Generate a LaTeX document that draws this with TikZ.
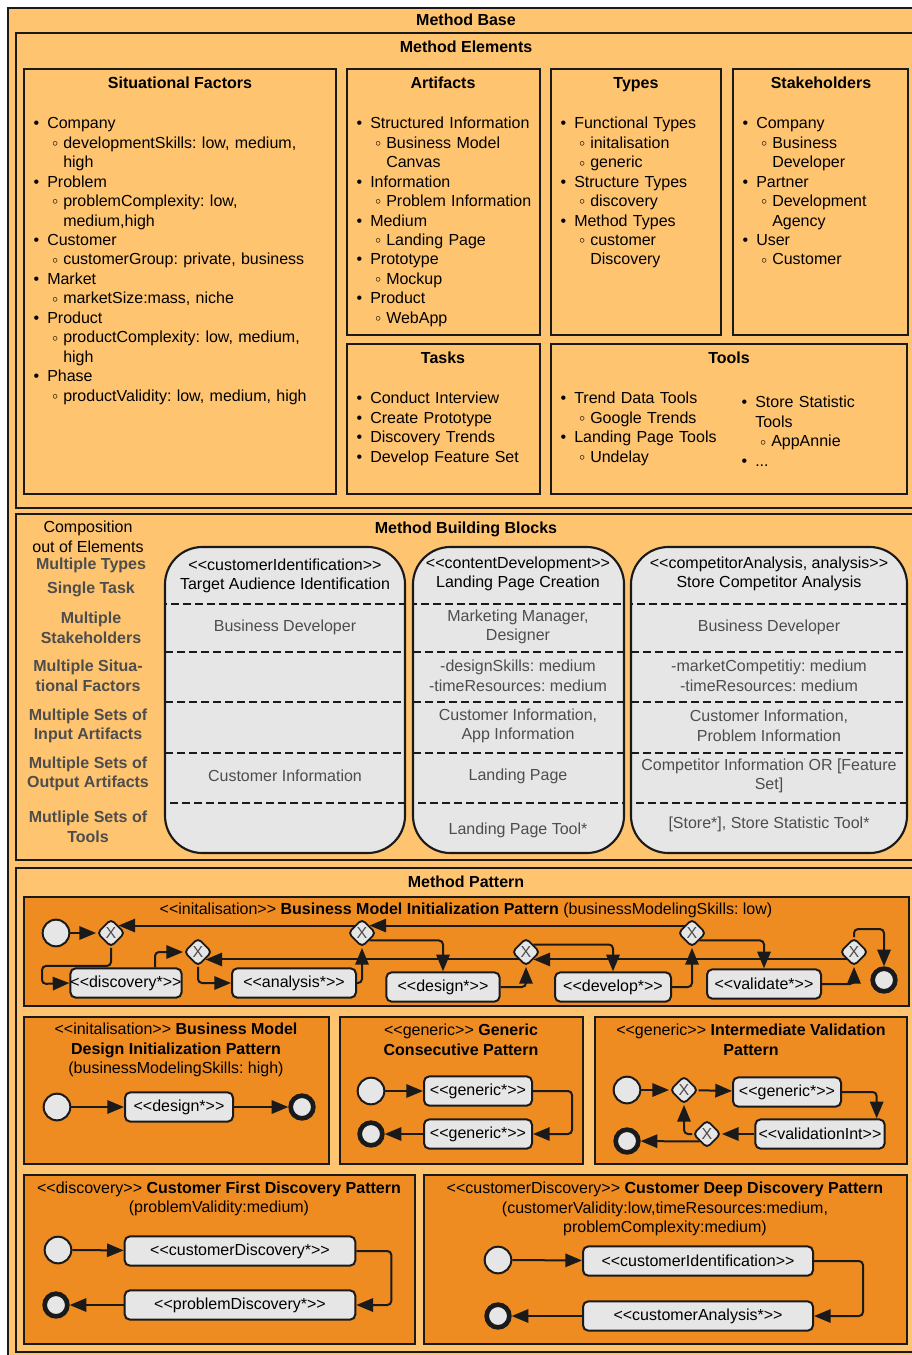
\documentclass[tikz,border=0pt]{standalone}
\usepackage{fontspec}
\setmainfont{Liberation Sans}
\usepackage{enumitem}
\usetikzlibrary{arrows.meta,positioning,shapes.geometric,calc}
\definecolor{baseor}{HTML}{FFC46F}
\definecolor{patternor}{HTML}{EE8C22}
\definecolor{actfill}{HTML}{E6E6E6}
\definecolor{ink}{HTML}{1A1A1A}
\definecolor{softink}{HTML}{4D4D4D}
\setlist[itemize,1]{label=\textbullet,leftmargin=11.25pt,labelsep=6pt,itemsep=0pt,parsep=0pt,topsep=0pt,partopsep=0pt}
\setlist[itemize,2]{label={\raisebox{1.2pt}{\footnotesize$\circ$}},leftmargin=12pt,labelsep=4pt,itemsep=0pt,parsep=0pt,topsep=0pt,partopsep=0pt}
\newcommand{\stereo}[1]{<\kern0pt<#1>\kern0pt>}

\begin{document}
\fontsize{12}{14.6}\selectfont\frenchspacing
\begin{tikzpicture}[x=0.75pt,y=-0.75pt,>={Triangle[length=12.5pt,width=10pt]},
  layer/.style={draw=ink,line width=1.6pt,fill=baseor},
  patbox/.style={draw=ink,line width=1.6pt,fill=patternor},
  ttl/.style={font=\bfseries,text height=9pt,text depth=0.5pt},
  elist/.style={anchor=north west,inner sep=0pt,text width=#1,align=left},
  bblock/.style={draw=ink,line width=1.6pt,fill=actfill,rounded corners=28pt},
  rowline/.style={draw=ink,line width=1.8pt,dash pattern=on 6pt off 3pt},
  rowtxt/.style={text=softink,align=center},
  lbl/.style={font=\bfseries,text=softink,align=center},
  act/.style={draw=ink,line width=1.5pt,fill=actfill,rounded corners=4pt,minimum height=22pt,inner sep=0pt},
  gate/.style={diamond,draw=ink,line width=1.4pt,fill=actfill,rounded corners=3pt,minimum size=21pt,inner sep=0pt,text=softink},
  startev/.style={circle,draw=ink,line width=1.5pt,fill=actfill,minimum size=20pt,inner sep=0pt},
  endev/.style={circle,draw=ink,line width=3.5pt,fill=actfill,minimum size=17pt,inner sep=0pt},
  flow/.style={->,draw=ink,line width=1.5pt,rounded corners=3pt}]
\useasboundingbox (0,0) rectangle (912,1355);
\fill[white] (0,0) rectangle (912,1355);

\draw[layer] (8,8) rectangle (920,1365);
\node[ttl] (mbase) at (466,20) {Method Base};

% method elements
\draw[layer] (16,33) rectangle (920,508);
\node[ttl] (melem) at (466,47) {Method Elements};
\draw[layer] (24,69) rectangle (336,494);
\draw[layer] (347,69) rectangle (540,335);
\draw[layer] (551,69) rectangle (721,335);
\draw[layer] (733,69) rectangle (908,335);
\draw[layer] (347,344) rectangle (540,494);
\draw[layer] (551,344) rectangle (907,494);
\node[ttl] (sfac) at (180,83) {Situational Factors};
\node[ttl] (arti) at (443,83) {Artifacts};
\node[ttl] (typs) at (636,83) {Types};
\node[ttl] (stak) at (821,83) {Stakeholders};
\node[ttl] (task) at (443,358) {Tasks};
\node[ttl] (tool) at (729,358) {Tools};

\node[elist=240pt] (sfaclist) at (32,109) {\begin{itemize}
  \item Company \begin{itemize}\item developmentSkills: low, medium,\newline high\end{itemize}
  \item Problem \begin{itemize}\item problemComplexity: low,\newline medium,high\end{itemize}
  \item Customer \begin{itemize}\item customerGroup: private, business\end{itemize}
  \item Market \begin{itemize}\item marketSize:mass, niche\end{itemize}
  \item Product \begin{itemize}\item productComplexity: low, medium,\newline high\end{itemize}
  \item Phase \begin{itemize}\item productValidity: low, medium, high\end{itemize}
\end{itemize}};
\node[elist=200pt] (artilist) at (355,109) {\begin{itemize}
  \item Structured Information \begin{itemize}\item Business Model\newline Canvas\end{itemize}
  \item Information \begin{itemize}\item Problem Information\end{itemize}
  \item Medium \begin{itemize}\item Landing Page\end{itemize}
  \item Prototype \begin{itemize}\item Mockup\end{itemize}
  \item Product \begin{itemize}\item WebApp\end{itemize}
\end{itemize}};
\node[elist=200pt] (typslist) at (559,109) {\begin{itemize}
  \item Functional Types \begin{itemize}\item initalisation \item generic\end{itemize}
  \item Structure Types \begin{itemize}\item discovery\end{itemize}
  \item Method Types \begin{itemize}\item customer\newline Discovery\end{itemize}
\end{itemize}};
\node[elist=200pt] (staklist) at (741,109) {\begin{itemize}
  \item Company \begin{itemize}\item Business\newline Developer\end{itemize}
  \item Partner \begin{itemize}\item Development\newline Agency\end{itemize}
  \item User \begin{itemize}\item Customer\end{itemize}
\end{itemize}};
\node[elist=200pt] (tasklist) at (355,384) {\begin{itemize}
  \item Conduct Interview
  \item Create Prototype
  \item Discovery Trends
  \item Develop Feature Set
\end{itemize}};
\node[elist=200pt] (toollist) at (559,384) {\begin{itemize}
  \item Trend Data Tools \begin{itemize}\item Google Trends\end{itemize}
  \item Landing Page Tools \begin{itemize}\item Undelay\end{itemize}
\end{itemize}};
\node[elist=150pt] (toollist2) at (740,388) {\begin{itemize}
  \item Store Statistic\newline Tools \begin{itemize}\item AppAnnie\end{itemize}
  \item ...
\end{itemize}};

% method building blocks
\draw[layer] (16,514) rectangle (920,860);
\node[ttl] (mbb) at (466,528) {Method Building Blocks};
\node[align=center] (compo) at (88,537) {Composition\\out of Elements};
\node[lbl] (ltype) at (91,565) {Multiple Types};
\node[lbl] (ltask) at (91,589) {Single Task};
\node[lbl] (lstak) at (91,628) {Multiple\\Stakeholders};
\node[lbl] (lsitu) at (88,676) {Multiple Situa-\\tional Factors};
\node[lbl] (linp) at (88,726) {Multiple Sets of\\Input Artifacts};
\node[lbl] (lout) at (88,774) {Multiple Sets of\\Output Artifacts};
\node[lbl] (ltool) at (88,827) {Mutliple Sets of\\Tools};

\foreach \xl/\xr in {165/405,413/624,631/907}{
  \draw[bblock] (\xl,547) rectangle (\xr,853);
  \draw[rowline] (\xl,604) rectangle (\xr,803);
  \foreach \y in {652,702,753} \draw[rowline] (\xl,\y) -- (\xr,\y);
}
\node[align=center] (bbahead) at (285,576) {\stereo{customerIdentification}\\Target Audience Identification};
\node[rowtxt] (bbastak) at (285,627) {Business Developer};
\node[rowtxt] (bbaout) at (285,776) {Customer Information};
\node[align=center] (bbbhead) at (518,574) {\stereo{contentDevelopment}\\Landing Page Creation};
\node[rowtxt] (bbbstak) at (518,627) {Marketing Manager,\\Designer};
\node[rowtxt] (bbbsitu) at (518,676) {-designSkills: medium\\-timeResources: medium};
\node[rowtxt] (bbbinp) at (518,726) {Customer Information,\\App Information};
\node[rowtxt] (bbbout) at (518,776) {Landing Page};
\node[rowtxt] (bbbtool) at (518,830) {Landing Page Tool*};
\node[align=center] (bbchead) at (769,574) {\stereo{competitorAnalysis, analysis}\\Store Competitor Analysis};
\node[rowtxt] (bbcstak) at (769,627) {Business Developer};
\node[rowtxt] (bbcsitu) at (769,676) {-marketCompetitiy: medium\\-timeResources: medium};
\node[rowtxt] (bbcinp) at (769,726) {Customer Information,\\Problem Information};
\node[rowtxt] (bbcout) at (769,776) {Competitor Information OR [Feature\\Set]};
\node[rowtxt] (bbctool) at (769,824) {[Store*], Store Statistic Tool*};

% method pattern
\draw[layer] (16,868) rectangle (920,1352);
\node[ttl] (mpat) at (466,882) {Method Pattern};

\draw[patbox] (24,897) rectangle (909,1006);
\node (bmititle) at (466,910) {\stereo{initalisation} \textbf{Business Model Initialization Pattern} (businessModelingSkills: low)};
\node[startev] (s0) at (56,933) {};
\node[gate] (g1) at (111,933) {X};
\node[act,minimum width=83pt] (disc) at (126,983) {\stereo{discovery*}};
\node[gate] (g2) at (198,952) {X};
\node[act,minimum width=93pt] (ana) at (294,983) {\stereo{analysis*}};
\node[gate] (g3) at (362,933) {X};
\node[act,minimum width=85pt] (des) at (443,987) {\stereo{design*}};
\node[gate] (g4) at (526,952) {X};
\node[act,minimum width=87pt] (dev) at (613,987) {\stereo{develop*}};
\node[gate] (g5) at (692,933) {X};
\node[act,minimum width=85.5pt] (val) at (764,984) {\stereo{validate*}};
\node[gate] (g6) at (854,952) {X};
\node[endev] (e0) at (884,980) {};
\draw[flow] (s0) -- (g1);
\draw[flow] (g1.south) -- ++(0,18) -| ++(-69,18) -- (disc.west);
\draw[flow] ($(disc.north)+(29,0)$) |- (g2.west);
\draw[flow] (g2.south) |- (ana.west);
\draw[flow] (ana.east) -| (g3.south);
\draw[flow] (g3.north west) -- (g1.north east);
\draw[flow] (g3.south east) -| (des.north);
\draw[flow] (des.east) -| (g4.south);
\draw[flow] (g4.south west) -- (g2.south east);
\draw[flow] (g4.north east) -| (dev.north);
\draw[flow] (dev.east) -| (g5.south);
\draw[flow] (g5.north west) -- (g3.north east);
\draw[flow] (g5.south east) -| (val.north);
\draw[flow] (val.east) -| (g6.south);
\draw[flow] (g6.south west) -- (g4.south east);
\draw[flow] (g6.north) -- ++(0,-8) -| (e0.north);

\draw[patbox] (24,1017) rectangle (329,1164);
\node[align=center] (bmdtitle) at (176,1050) {\stereo{initalisation} \textbf{Business Model}\\\textbf{Design Initialization Pattern}\\(businessModelingSkills: high)};
\node[startev] (s1) at (57,1107) {};
\node[act,minimum width=81pt] (d1) at (179,1107) {\stereo{design*}};
\node[endev] (e1) at (302,1107) {};
\draw[flow] (s1) -- (d1);
\draw[flow] (d1) -- (e1);

\draw[patbox] (340,1017) rectangle (583,1164);
\node[align=center] (gcptitle) at (461,1040) {\stereo{generic} \textbf{Generic}\\\textbf{Consecutive Pattern}};
\node[startev] (s2) at (371,1091) {};
\node[act,minimum width=81pt] (gen1) at (478,1091) {\stereo{generic*}};
\node[act,minimum width=81pt] (gen2) at (478,1134) {\stereo{generic*}};
\node[endev] (e2) at (371,1134) {};
\draw[flow] (s2) -- (gen1);
\draw[flow] (gen1.east) -- ++(39,0) |- (gen2.east);
\draw[flow] (gen2) -- (e2);

\draw[patbox] (595,1017) rectangle (907,1164);
\node[align=center] (ivptitle) at (751,1040) {\stereo{generic} \textbf{Intermediate Validation}\\\textbf{Pattern}};
\node[startev] (s3) at (627,1090) {};
\node[gate] (g7) at (684,1090) {X};
\node[act,minimum width=81pt] (gen3) at (787,1092) {\stereo{generic*}};
\node[act,minimum width=97pt] (vin) at (820,1134) {\stereo{validationInt}};
\node[gate] (g8) at (707,1134) {X};
\node[endev] (e3) at (627,1141) {};
\draw[flow] (s3) -- (g7);
\draw[flow] (g7) -- (gen3);
\draw[flow] (gen3.east) -| ($(vin.north east)+(-9,0)$);
\draw[flow] (vin) -- (g8);
\draw[flow] (g8.west) -| (g7.south);
\draw[flow] (g8.south west) -- (e3);

\draw[patbox] (24,1175) rectangle (415,1344);
\node[align=center] (cfdtitle) at (219,1199) {\stereo{discovery} \textbf{Customer First Discovery Pattern}\\(problemValidity:medium)};
\node[startev] (s4) at (58,1250) {};
\node[act,minimum width=173pt] (cdisc) at (240,1251) {\stereo{customerDiscovery*}};
\node[act,minimum width=173pt] (pdisc) at (240,1305) {\stereo{problemDiscovery*}};
\node[endev] (e4) at (56,1305) {};
\draw[flow] (s4) -- (cdisc);
\draw[flow] (cdisc.east) -- ++(35,0) |- (pdisc.east);
\draw[flow] (pdisc) -- (e4);

\draw[patbox] (424,1175) rectangle (907,1344);
\node[align=center] (cddtitle) at (665,1209) {\stereo{customerDiscovery} \textbf{Customer Deep Discovery Pattern}\\(customerValidity:low,timeResources:medium,\\problemComplexity:medium)};
\node[startev] (s5) at (498,1260) {};
\node[act,minimum width=172.5pt] (cid) at (698,1261) {\stereo{customerIdentification}};
\node[act,minimum width=172.5pt] (cana) at (698,1316) {\stereo{customerAnalysis*}};
\node[endev] (e5) at (498,1316) {};
\draw[flow] (s5) -- (cid);
\draw[flow] (cid.east) -- ++(49,0) |- (cana.east);
\draw[flow] (cana) -- (e5);
\end{tikzpicture}
\end{document}
